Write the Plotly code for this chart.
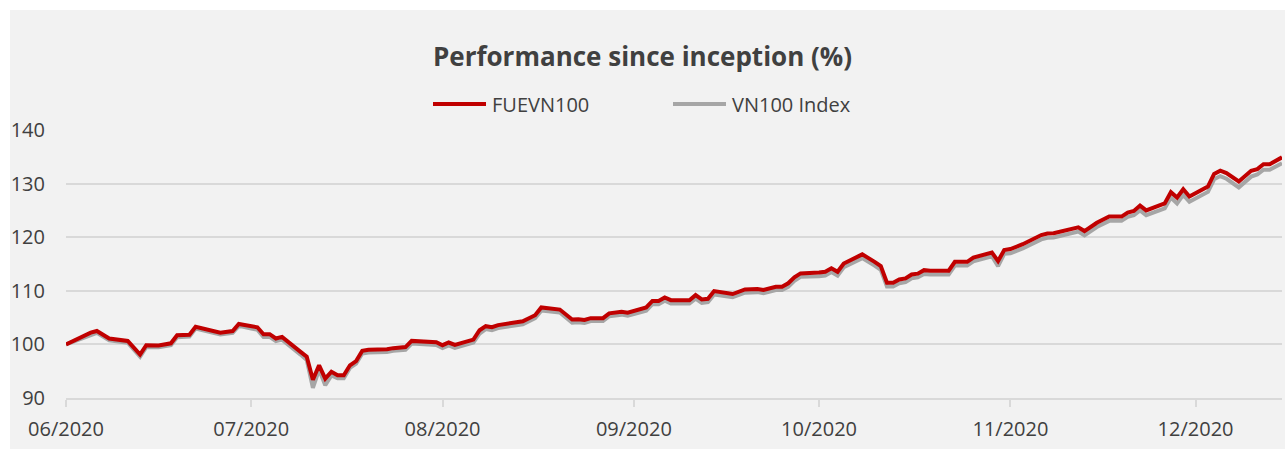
import plotly.graph_objects as go

# ---------------- data ----------------
dates = [
    "2020-06-01", "2020-06-05", "2020-06-06", "2020-06-08", "2020-06-11", "2020-06-13",
    "2020-06-14", "2020-06-16", "2020-06-18", "2020-06-19", "2020-06-21", "2020-06-22",
    "2020-06-26", "2020-06-28", "2020-06-29", "2020-07-01", "2020-07-02", "2020-07-03",
    "2020-07-04", "2020-07-05", "2020-07-06", "2020-07-09", "2020-07-10", "2020-07-11",
    "2020-07-12", "2020-07-13", "2020-07-14", "2020-07-15", "2020-07-16", "2020-07-17",
    "2020-07-18", "2020-07-19", "2020-07-20", "2020-07-23", "2020-07-24", "2020-07-26",
    "2020-07-27", "2020-07-31", "2020-08-01", "2020-08-02", "2020-08-03", "2020-08-06",
    "2020-08-07", "2020-08-08", "2020-08-09", "2020-08-10", "2020-08-14", "2020-08-16",
    "2020-08-17", "2020-08-20", "2020-08-22", "2020-08-23", "2020-08-24", "2020-08-25",
    "2020-08-27", "2020-08-28", "2020-08-30", "2020-08-31", "2020-09-02", "2020-09-03",
    "2020-09-04", "2020-09-05", "2020-09-06", "2020-09-07", "2020-09-10", "2020-09-11",
    "2020-09-12", "2020-09-13", "2020-09-14", "2020-09-17", "2020-09-19", "2020-09-20",
    "2020-09-21", "2020-09-22", "2020-09-24", "2020-09-25", "2020-09-26", "2020-09-27",
    "2020-09-28", "2020-10-01", "2020-10-02", "2020-10-03", "2020-10-04", "2020-10-05",
    "2020-10-08", "2020-10-10", "2020-10-11", "2020-10-12", "2020-10-13", "2020-10-14",
    "2020-10-15", "2020-10-16", "2020-10-17", "2020-10-18", "2020-10-19", "2020-10-22",
    "2020-10-23", "2020-10-25", "2020-10-26", "2020-10-29", "2020-10-30", "2020-10-31",
    "2020-11-01", "2020-11-03", "2020-11-06", "2020-11-07", "2020-11-08", "2020-11-12",
    "2020-11-13", "2020-11-15", "2020-11-17", "2020-11-19", "2020-11-20", "2020-11-21",
    "2020-11-22", "2020-11-23", "2020-11-26", "2020-11-27", "2020-11-28", "2020-11-29",
    "2020-11-30", "2020-12-03", "2020-12-04", "2020-12-05", "2020-12-06", "2020-12-08",
    "2020-12-10", "2020-12-11", "2020-12-12", "2020-12-13", "2020-12-15",
]

fuevn100 = [
    100.0, 102.2, 102.5, 101.1, 100.65, 98.1,
    99.85, 99.8, 100.2, 101.7, 101.8, 103.3,
    102.2, 102.5, 103.8, 103.4, 103.2, 101.9,
    101.9, 101.1, 101.4, 98.6, 97.7, 93.4,
    96.1, 93.6, 94.9, 94.25, 94.25, 96.1,
    96.9, 98.8, 99.0, 99.1, 99.3, 99.5,
    100.65, 100.4, 99.85, 100.35, 99.9, 100.9,
    102.65, 103.4, 103.2, 103.6, 104.3, 105.45,
    106.9, 106.5, 104.65, 104.7, 104.55, 104.9,
    104.9, 105.8, 106.1, 105.9, 106.5, 106.9,
    108.1, 108.1, 108.75, 108.25, 108.25, 109.2,
    108.4, 108.5, 109.95, 109.4, 110.25, 110.35,
    110.35, 110.15, 110.75, 110.75, 111.4, 112.5,
    113.25, 113.4, 113.55, 114.2, 113.55, 115.1,
    116.8, 115.4, 114.6, 111.5, 111.5, 112.1,
    112.3, 113.05, 113.2, 113.85, 113.75, 113.75,
    115.4, 115.4, 116.2, 117.15, 115.55, 117.6,
    117.8, 118.7, 120.4, 120.7, 120.75, 121.85,
    121.15, 122.7, 123.85, 123.85, 124.6, 124.9,
    125.9, 125.0, 126.3, 128.4, 127.4, 128.95,
    127.6, 129.45, 131.8, 132.4, 131.95, 130.4,
    132.4, 132.7, 133.6, 133.6, 134.9,
]

vn100_index = [
    100.0, 101.85, 102.15, 100.75, 100.3, 97.7,
    99.5, 99.45, 99.85, 101.35, 101.45, 102.95,
    101.85, 102.15, 103.45, 102.95, 102.75, 101.4,
    101.4, 100.6, 100.9, 98.1, 97.1, 91.9,
    95.3, 92.4, 94.2, 93.7, 93.7, 95.6,
    96.4, 98.3, 98.5, 98.6, 98.8, 99.0,
    100.15, 99.9, 99.3, 99.8, 99.35, 100.35,
    102.0, 102.85, 102.65, 103.05, 103.75, 104.9,
    106.3, 105.95, 104.05, 104.15, 104.0, 104.35,
    104.35, 105.25, 105.55, 105.35, 105.9, 106.3,
    107.5, 107.5, 108.15, 107.65, 107.65, 108.55,
    107.75, 107.9, 109.3, 108.8, 109.65, 109.75,
    109.75, 109.55, 110.15, 110.15, 110.75, 111.85,
    112.6, 112.7, 112.85, 113.5, 112.85, 114.4,
    116.1, 114.7, 113.9, 110.8, 110.8, 111.4,
    111.6, 112.35, 112.5, 113.15, 113.05, 113.05,
    114.7, 114.7, 115.5, 116.45, 114.6, 116.9,
    117.0, 117.9, 119.6, 119.9, 119.95, 121.05,
    120.35, 121.9, 123.05, 123.05, 123.8, 124.1,
    125.0, 124.1, 125.4, 127.4, 126.3, 127.9,
    126.6, 128.45, 130.8, 131.4, 130.9, 129.3,
    131.3, 131.7, 132.6, 132.6, 133.8,
]

series_names = ["FUEVN100", "VN100 Index"]
y_tick_values = [90, 100, 110, 120, 130, 140]
x_tick_dates = ["2020-06-01", "2020-07-01", "2020-08-01", "2020-09-01",
                "2020-10-01", "2020-11-01", "2020-12-01"]
x_tick_labels = ["06/2020", "07/2020", "08/2020", "09/2020",
                 "10/2020", "11/2020", "12/2020"]
chart_title = "Performance since inception (%)"

# ---------------- styling / layout ----------------
W, H = 1285, 449
ML, MR, MT, MB = 66, 3, 130, 51
PW, PH = W - ML - MR, H - MT - MB
RED = "#C00000"
GREY = "#A6A6A6"
FONT = "Open Sans"
TXT = "#404040"


def px_x(px):
    return (px - ML) / PW


def px_y(py):
    return (H - MB - py) / PH


fig = go.Figure()
fig.add_trace(go.Scatter(x=dates, y=vn100_index, mode="lines", name=series_names[1],
                         line=dict(color=GREY, width=4), showlegend=False))
fig.add_trace(go.Scatter(x=dates, y=fuevn100, mode="lines", name=series_names[0],
                         line=dict(color=RED, width=4), showlegend=False))

shapes = [
    # grey chart-area background
    dict(type="rect", xref="paper", yref="paper", layer="below",
         x0=px_x(10), x1=px_x(W + 2), y0=px_y(H + 2), y1=px_y(10),
         fillcolor="#F2F2F2", line=dict(width=0)),
    # manual legend lines
    dict(type="line", xref="paper", yref="paper",
         x0=px_x(433), x1=px_x(486), y0=px_y(104), y1=px_y(104),
         line=dict(color=RED, width=4)),
    dict(type="line", xref="paper", yref="paper",
         x0=px_x(673), x1=px_x(726), y0=px_y(104), y1=px_y(104),
         line=dict(color=GREY, width=4)),
]

annotations = [
    dict(text=series_names[0], xref="paper", yref="paper", x=px_x(490), y=px_y(104),
         xanchor="left", yanchor="middle", showarrow=False,
         font=dict(family=FONT, size=20, color=TXT)),
    dict(text=series_names[1], xref="paper", yref="paper", x=px_x(730), y=px_y(104),
         xanchor="left", yanchor="middle", showarrow=False,
         font=dict(family=FONT, size=20, color=TXT)),
]

fig.update_layout(
    width=W, height=H,
    margin=dict(l=ML, r=MR, t=MT, b=MB, pad=0),
    paper_bgcolor="white",
    plot_bgcolor="rgba(0,0,0,0)",
    showlegend=False,
    title=dict(text="<b>" + chart_title + "</b>", xref="container", x=0.5, xanchor="center",
               yref="container", y=1 - 57 / H, yanchor="middle",
               font=dict(family=FONT, size=26, color=TXT)),
    font=dict(family=FONT, size=20, color=TXT),
    shapes=shapes,
    annotations=annotations,
    xaxis=dict(
        type="date", range=["2020-06-01", "2020-12-15"],
        tickmode="array", tickvals=x_tick_dates, ticktext=x_tick_labels,
        showgrid=False, zeroline=False,
        showline=True, linecolor="#D9D9D9", linewidth=2,
        ticks="outside", ticklen=7, tickwidth=1.5, tickcolor="#D9D9D9",
        ticklabelstandoff=5,
        tickfont=dict(family=FONT, size=20, color=TXT),
    ),
    yaxis=dict(
        range=[90, 140], tickmode="array", tickvals=y_tick_values,
        showgrid=True, gridcolor="#D9D9D9", gridwidth=2,
        zeroline=False, showline=False, ticks="",
        ticklabelstandoff=20,
        tickfont=dict(family=FONT, size=20, color=TXT),
    ),
)

fig.write_html(
    "out.html",
    config={"displayModeBar": False},
    post_script="document.body.style.margin='0';document.body.style.overflow='hidden';",
)
